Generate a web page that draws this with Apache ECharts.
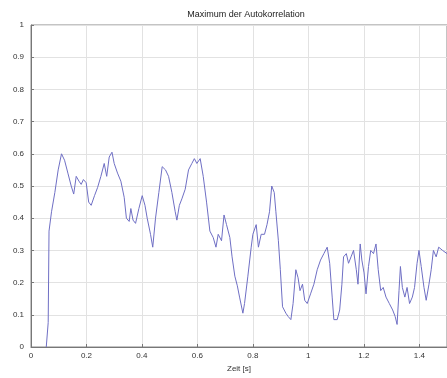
<!DOCTYPE html>
<html>
<head>
<meta charset="utf-8">
<script src="https://cdn.jsdelivr.net/npm/echarts@6/dist/echarts.min.js"></script>
<style>html,body{margin:0;padding:0;background:#fff}#c{width:447px;height:378px}</style>
</head>
<body>
<div id="c"></div>
<script>
var titleText = 'Maximum der Autokorrelation';
var xName = 'Zeit [s]';
var timeS = [0.055,0.062,0.065,0.074,0.086,0.098,0.11,0.121,0.133,0.145,0.154,0.163,0.173,0.181,0.189,0.199,0.208,0.217,0.229,0.24,0.252,0.264,0.273,0.282,0.292,0.3,0.312,0.324,0.336,0.344,0.354,0.36,0.368,0.377,0.389,0.401,0.411,0.419,0.431,0.439,0.449,0.461,0.473,0.485,0.496,0.508,0.52,0.526,0.535,0.544,0.556,0.568,0.58,0.589,0.598,0.61,0.621,0.633,0.645,0.657,0.667,0.675,0.687,0.696,0.705,0.717,0.725,0.735,0.744,0.752,0.764,0.77,0.782,0.794,0.8,0.812,0.82,0.83,0.842,0.851,0.86,0.868,0.877,0.883,0.892,0.899,0.907,0.919,0.927,0.937,0.945,0.955,0.963,0.970,0.979,0.987,0.996,1.008,1.02,1.032,1.044,1.056,1.068,1.077,1.086,1.092,1.104,1.113,1.121,1.127,1.137,1.145,1.154,1.163,1.173,1.179,1.187,1.193,1.201,1.208,1.217,1.225,1.235,1.244,1.252,1.261,1.27,1.28,1.292,1.304,1.313,1.32,1.327,1.332,1.339,1.348,1.356,1.365,1.375,1.383,1.392,1.399,1.407,1.417,1.425,1.435,1.443,1.451,1.461,1.47,1.484,1.5];
var maxCorr = [0.0,0.076,0.36,0.42,0.48,0.55,0.60,0.58,0.54,0.50,0.475,0.53,0.515,0.505,0.52,0.51,0.45,0.44,0.47,0.495,0.53,0.57,0.53,0.59,0.605,0.57,0.54,0.515,0.465,0.40,0.39,0.43,0.394,0.384,0.43,0.47,0.44,0.40,0.35,0.31,0.40,0.48,0.56,0.55,0.53,0.48,0.42,0.394,0.44,0.46,0.49,0.55,0.57,0.585,0.57,0.585,0.53,0.45,0.36,0.34,0.31,0.35,0.33,0.41,0.38,0.34,0.28,0.22,0.19,0.155,0.105,0.135,0.22,0.31,0.35,0.38,0.31,0.35,0.35,0.38,0.42,0.50,0.48,0.42,0.33,0.24,0.125,0.105,0.095,0.085,0.135,0.24,0.215,0.175,0.195,0.145,0.135,0.165,0.195,0.24,0.27,0.29,0.31,0.26,0.155,0.085,0.085,0.115,0.195,0.28,0.29,0.26,0.28,0.30,0.24,0.195,0.32,0.27,0.23,0.165,0.25,0.30,0.29,0.32,0.24,0.175,0.185,0.155,0.135,0.115,0.095,0.07,0.175,0.25,0.185,0.155,0.185,0.135,0.155,0.185,0.26,0.30,0.25,0.185,0.145,0.195,0.24,0.30,0.28,0.31,0.30,0.29];
var pts = timeS.map(function(t,i){return [t, maxCorr[i]];});
var chart = echarts.init(document.getElementById('c'));
var lab = {color:'#333', fontSize:8, fontFamily:'Liberation Sans'};
chart.setOption({
  animation:false,
  title:{text:titleText, left:241, textAlign:'center', top:5, textStyle:{fontSize:9, fontWeight:'normal', color:'#222', fontFamily:'Liberation Sans'}},
  grid:{left:31, top:25, bottom:23, right:-4, show:true, borderColor:'#888', borderWidth:1},
  xAxis:{type:'value', min:0, max:1.5, interval:0.2, name:xName, nameLocation:'middle', nameGap:18,
    nameTextStyle:{fontSize:8, color:'#333', fontFamily:'Liberation Sans'},
    axisLine:{lineStyle:{color:'#777'}}, axisTick:{inside:true, length:3, lineStyle:{color:'#777'}},
    axisLabel:Object.assign({margin:5, showMaxLabel:false, formatter:function(v){return String(+v.toFixed(1));}}, lab),
    splitLine:{lineStyle:{color:'#e2e2e2'}}},
  yAxis:{type:'value', min:0, max:1, interval:0.1,
    axisLine:{show:true, lineStyle:{color:'#777'}}, axisTick:{show:true, inside:true, length:3, lineStyle:{color:'#777'}},
    axisLabel:Object.assign({margin:7, formatter:function(v){return String(+v.toFixed(1));}}, lab),
    splitLine:{lineStyle:{color:'#e2e2e2'}}},
  series:[{type:'line', data:pts, showSymbol:false, lineStyle:{color:'#6f6fc4', width:1}}]
});
</script>
</body>
</html>
